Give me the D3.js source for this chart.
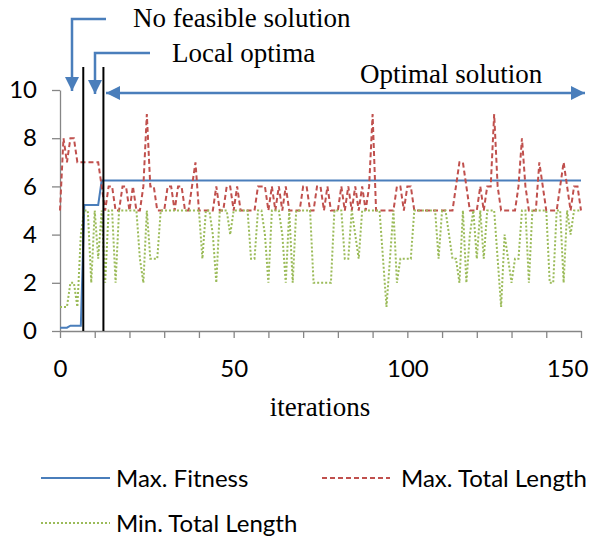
<!DOCTYPE html>
<html>
<head>
<meta charset="utf-8">
<script src="https://cdn.jsdelivr.net/npm/d3@7"></script>
<style>
body { margin: 0; background: #fff; }
svg text { font-family: Lato, "Open Sans", sans-serif; fill: #000; }
.serif { font-family: "Liberation Serif", "DejaVu Serif", serif; }
.axis path, .axis line { stroke: #868686; }
</style>
</head>
<body>
<svg id="chart" width="605" height="539"></svg>
<script>
// data
var iterations = d3.range(0, 151);

var maxTotalLength = [
    5, 8, 7, 8, 8, 7, 7, 7, 7, 7,
    7, 7, 6, 5, 6, 6, 5, 5, 6, 6,
    5, 6, 5, 5, 6, 9, 6, 6, 5, 5,
    5, 6, 6, 5, 6, 6, 5, 5, 6, 7,
    5, 5, 5, 5, 5, 6, 5, 5, 6, 6,
    5, 6, 5, 5, 5, 5, 5, 6, 6, 6,
    5, 6, 5, 6, 5, 6, 5, 5, 5, 5,
    6, 6, 5, 5, 6, 6, 5, 6, 5, 5,
    5, 6, 5, 6, 5, 6, 5, 6, 5, 6,
    9, 5, 5, 5, 5, 5, 5, 6, 6, 5,
    6, 6, 5, 5, 5, 5, 5, 5, 5, 5,
    5, 5, 5, 5, 6, 7, 7, 6, 5, 5,
    5, 6, 5, 6, 6, 9, 6, 5, 5, 5,
    5, 5, 6, 8, 6, 5, 5, 5, 7, 6,
    5, 5, 5, 5, 6, 7, 6, 5, 6, 6,
    5
];

var minTotalLength = [
    1, 1, 1, 2, 2, 1, 4, 5, 5, 2,
    5, 3, 5, 2, 5, 5, 2, 5, 5, 5,
    5, 5, 5, 3, 2, 5, 3, 3, 3, 5,
    5, 5, 5, 5, 5, 5, 5, 5, 5, 5,
    5, 3, 5, 5, 4, 2, 5, 5, 5, 4,
    5, 5, 5, 5, 5, 3, 3, 5, 5, 4,
    2, 5, 5, 5, 4, 2, 5, 2, 5, 5,
    5, 5, 5, 2, 2, 2, 2, 2, 2, 5,
    5, 5, 3, 3, 5, 4, 3, 5, 5, 5,
    5, 5, 5, 3, 1, 3, 5, 2, 3, 3,
    3, 3, 5, 5, 5, 5, 5, 5, 5, 3,
    5, 5, 4, 3, 3, 2, 5, 2, 4, 5,
    3, 5, 3, 5, 5, 5, 3, 1, 4, 3,
    2, 3, 3, 5, 5, 2, 5, 5, 5, 5,
    5, 2, 2, 5, 5, 2, 5, 4, 5, 5,
    5
];

// max fitness only changes a few times, so keep its corner points
var fitnessIter = [0, 2, 3, 6, 7, 11, 12, 150];
var fitnessValue = [0.14, 0.14, 0.22, 0.22, 5.23, 5.23, 6.24, 6.24];

var stageBounds = [6.7, 12.5];
var stageNames = ['No feasible solution', 'Local optima', 'Optimal solution'];

var xTicks = d3.range(0, 151, 10);
var xLabels = [0, 50, 100, 150];
var yTicks = [0, 2, 4, 6, 8, 10];
var seriesNames = ['Max. Fitness', 'Max. Total Length', 'Min. Total Length'];
var colors = ['#4a7ebb', '#c0504d', '#9bbb59'];

var svg = d3.select('#chart');
var x = d3.scaleLinear().domain([0, 150]).range([60, 581]);
var y = d3.scaleLinear().domain([0, 10]).range([331, 90]);

// axes
var xAxis = svg.append('g').attr('class', 'axis')
    .attr('transform', 'translate(0,' + y(0) + ')')
    .call(d3.axisBottom(x).tickValues(xTicks).tickSize(7).tickSizeOuter(0).tickPadding(22)
        .tickFormat(function(d) { return xLabels.indexOf(d) >= 0 ? d : ''; }));
xAxis.selectAll('text').style('font-size', '24px');
xAxis.selectAll('.tick').filter(function(d) { return d === 150; })
    .select('text').attr('dx', -14);

var yAxis = svg.append('g').attr('class', 'axis')
    .attr('transform', 'translate(' + x(0) + ',0)')
    .call(d3.axisLeft(y).tickValues(yTicks).tickSize(8).tickSizeOuter(0).tickPadding(15));
yAxis.selectAll('text').style('font-size', '24px');
svg.selectAll('.axis path, .axis line').attr('stroke-width', 1.3);

svg.append('text').attr('class', 'serif')
    .attr('x', 320).attr('y', 416).attr('text-anchor', 'middle')
    .style('font-size', '27px').text('iterations');

// series
var line = d3.line()
    .x(function(d) { return x(d[0]); })
    .y(function(d) { return y(d[1]); });

svg.append('path')
    .datum(d3.zip(fitnessIter, fitnessValue))
    .attr('fill', 'none').attr('stroke', colors[0]).attr('stroke-width', 2)
    .attr('d', line);

svg.append('path')
    .datum(d3.zip(iterations, maxTotalLength))
    .attr('fill', 'none').attr('stroke', colors[1]).attr('stroke-width', 2)
    .attr('stroke-dasharray', '5,3')
    .attr('d', line);

svg.append('path')
    .datum(d3.zip(iterations, minTotalLength))
    .attr('fill', 'none').attr('stroke', colors[2]).attr('stroke-width', 2)
    .attr('stroke-dasharray', '2,2')
    .attr('d', line);

// stage boundaries
svg.selectAll('.bound').data(stageBounds).enter()
    .append('line').attr('class', 'bound')
    .attr('x1', function(d) { return x(d); }).attr('x2', function(d) { return x(d); })
    .attr('y1', y(0)).attr('y2', y(10.95))
    .attr('stroke', '#000').attr('stroke-width', 2);

// arrows
var defs = svg.append('defs');
function arrowHead(id, orient) {
    defs.append('marker').attr('id', id)
        .attr('markerUnits', 'userSpaceOnUse')
        .attr('viewBox', '0 0 14 14').attr('refX', 14).attr('refY', 7)
        .attr('markerWidth', 14).attr('markerHeight', 14)
        .attr('orient', orient)
        .append('path').attr('d', 'M0,0L14,7L0,14Z').attr('fill', '#4a7ebb');
}
arrowHead('head', 'auto');
arrowHead('headStart', 'auto-start-reverse');

var arrowColor = '#4a7ebb';
svg.append('path')
    .attr('d', 'M106,19H72V91')
    .attr('fill', 'none').attr('stroke', arrowColor).attr('stroke-width', 2.5)
    .attr('marker-end', 'url(#head)');
svg.append('path')
    .attr('d', 'M150,53H95V94')
    .attr('fill', 'none').attr('stroke', arrowColor).attr('stroke-width', 2.5)
    .attr('marker-end', 'url(#head)');
svg.append('path')
    .attr('d', 'M106,93H585')
    .attr('fill', 'none').attr('stroke', arrowColor).attr('stroke-width', 2.5)
    .attr('marker-start', 'url(#headStart)').attr('marker-end', 'url(#head)');

var stageLabelPos = [[133, 27], [172, 62], [360, 83]];
svg.selectAll('.stage').data(stageNames).enter()
    .append('text').attr('class', 'serif')
    .attr('x', function(d, i) { return stageLabelPos[i][0]; })
    .attr('y', function(d, i) { return stageLabelPos[i][1]; })
    .style('font-size', '27px')
    .text(function(d) { return d; });

// legend
var legendPos = [[41, 478], [322, 478], [41, 523]];
var legendDash = [null, '5,3', '2,2'];
var legend = svg.selectAll('.legend').data(seriesNames).enter()
    .append('g').attr('class', 'legend')
    .attr('transform', function(d, i) { return 'translate(' + legendPos[i][0] + ',' + legendPos[i][1] + ')'; });
legend.append('line')
    .attr('x1', 0).attr('x2', function(d, i) { return i === 1 ? 68 : 69; })
    .attr('stroke', function(d, i) { return colors[i]; })
    .attr('stroke-width', 2)
    .attr('stroke-dasharray', function(d, i) { return legendDash[i]; });
legend.append('text')
    .attr('x', function(d, i) { return i === 1 ? 79 : 75; })
    .attr('dy', '0.36em')
    .style('font-size', '24px')
    .text(function(d) { return d; });
</script>
</body>
</html>
